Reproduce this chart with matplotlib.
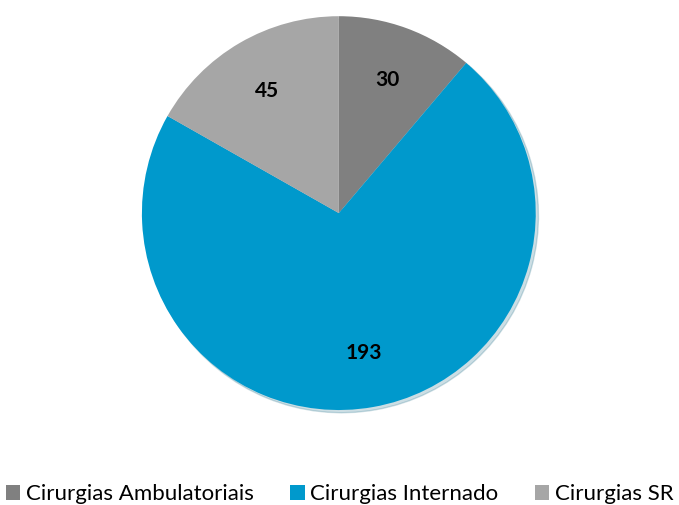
import matplotlib.pyplot as plt

categories = ['Cirurgias Ambulatoriais', 'Cirurgias Internado', 'Cirurgias SR']
values = [30, 193, 45]
colors = ['#808080', '#0099CC', '#A6A6A6']

plt.rcParams['font.family'] = ['Lato', 'DejaVu Sans']

fig = plt.figure(figsize=(6.79, 5.05), dpi=100)
ax = fig.add_axes([0.209, 0.188, 0.580, 0.780])

wedges, texts, autotexts = ax.pie(values, colors=colors, startangle=90, counterclock=False,
                                  radius=1, autopct=lambda p: '{:.0f}'.format(p * sum(values) / 100),
                                  pctdistance=0.72,
                                  shadow={'ox': 0.01, 'oy': -0.01, 'shade': 0.4, 'alpha': 0.2},
                                  textprops={'fontsize': 15, 'fontweight': 'bold', 'color': 'black'})
ax.set_xlim(-1, 1)
ax.set_ylim(-1, 1)
ax.set_aspect('equal')

fig.legend(wedges, categories, loc='lower center', bbox_to_anchor=(0.5, -0.038), ncol=3,
           frameon=False, fontsize=16, handlelength=0.65, handleheight=0.65,
           handletextpad=0.25, columnspacing=1.65)

fig.savefig('out.png', dpi=100)
